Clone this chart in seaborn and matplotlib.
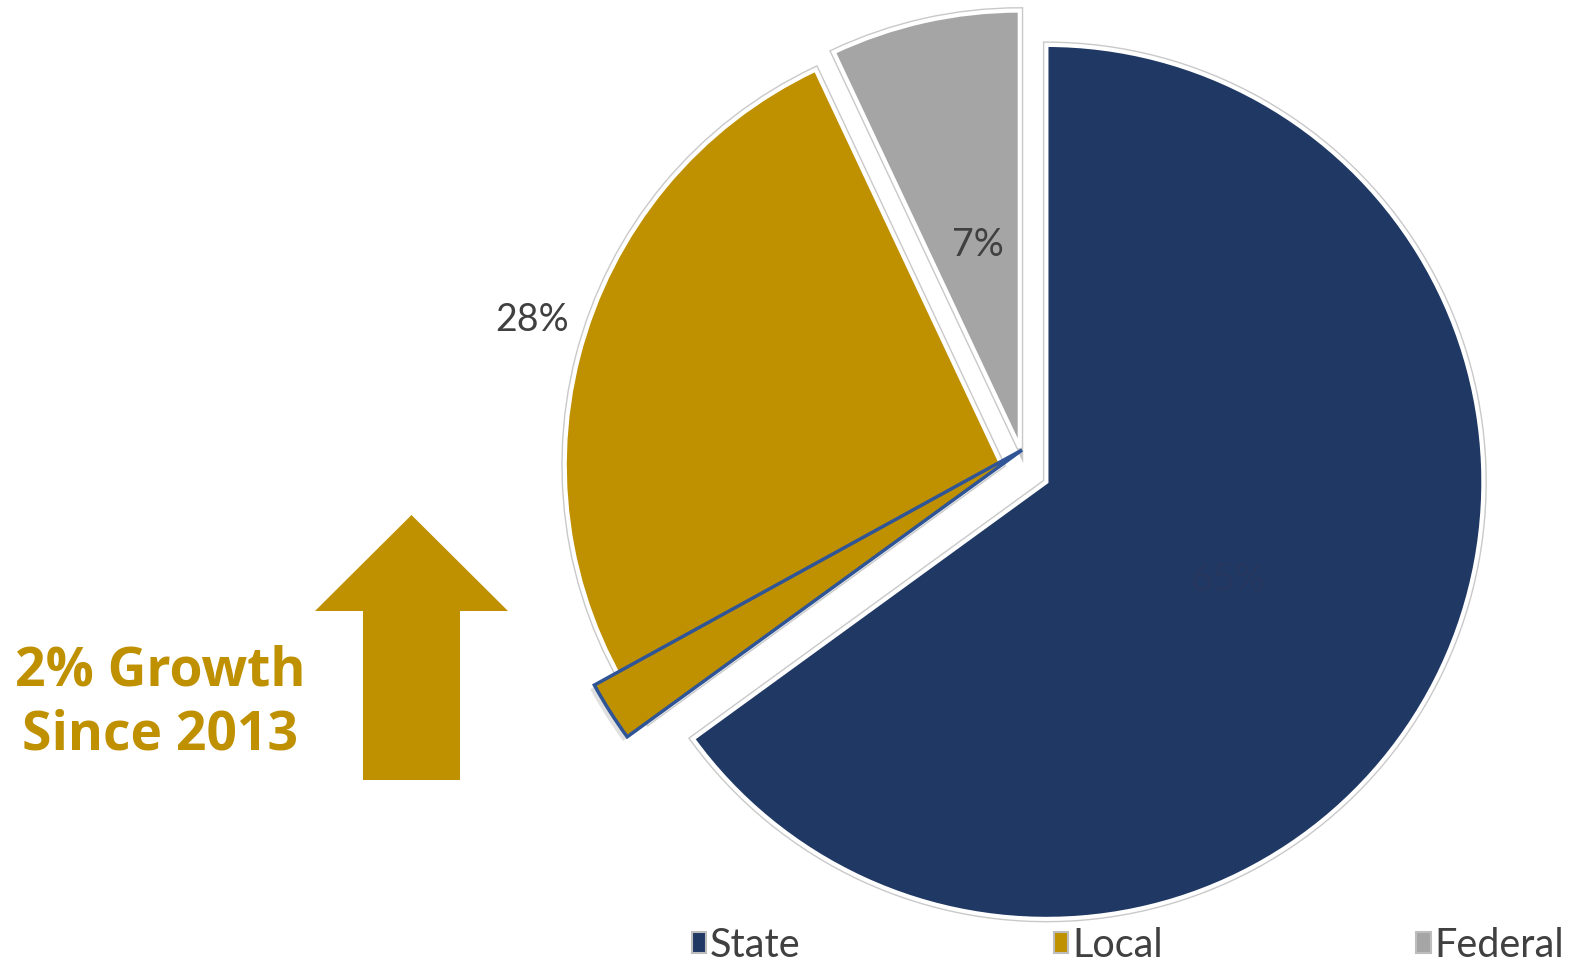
import matplotlib
matplotlib.use("Agg")
import matplotlib.pyplot as plt
import matplotlib.patches as mpatches
import matplotlib.patheffects as pe
import seaborn as sns

# ---- data ----
categories = ["State", "Local", "Federal"]
shares = [65, 28, 7]
growth = 2
label_texts = ["65%", "28%", "7%"]
note_lines = ["2% Growth", "Since 2013"]

colors = ["#203864", "#BF9000", "#A5A5A5"]
label_colors = ["#26375f", "#404040", "#404040"]

sns.set_theme(style="white")
plt.rcParams["font.family"] = ["Lato", "DejaVu Sans"]

W, H = 1570, 963
fig = plt.figure(figsize=(W / 100, H / 100), dpi=100)
ax = fig.add_axes([0, 0, 1, 1])

outline = [pe.Stroke(linewidth=5, foreground="#c9c9c9"), pe.Normal()]

wedges, _ = ax.pie(
    shares, colors=colors, startangle=90, counterclock=False,
    center=(1025, H - 471), radius=437, explode=[24, 24, 24],
    wedgeprops=dict(edgecolor="white", linewidth=3),
)
for w in wedges:
    w.set_path_effects(outline)

# growth wedge overlay (last 2% of Local, next to State)
split = [shares[0], growth, shares[1] - growth, shares[2]]
gw, _ = ax.pie(
    split, colors=["none", colors[1], "none", "none"], startangle=90,
    counterclock=False, center=(1022, H - 450), radius=488,
    wedgeprops=dict(linewidth=2.5),
)
for i, w in enumerate(gw):
    if i != 1:
        w.set_visible(False)
    else:
        w.set_edgecolor("#2F5597")
        w.set_path_effects([pe.SimplePatchShadow(offset=(-3, -3), alpha=0.18, shadow_rgbFace="#555555"),
                            pe.Normal()])

# percentage labels
label_pos = [(1228, H - 580), (532, H - 320), (978, H - 245)]
for (x, y), t, c in zip(label_pos, label_texts, label_colors):
    ax.text(x, y, t, ha="center", va="center", fontsize=27, color=c)

# arrow
ax.add_patch(mpatches.FancyArrow(411.5, H - 780, 0, 265, width=97, head_width=193,
                                 head_length=96, length_includes_head=True,
                                 color="#BF9000", linewidth=0))
ax.text(160, H - 671, note_lines[0], ha="center", va="center", fontsize=38.5,
        fontweight="bold", color="#BF9000", family=["Open Sans", "DejaVu Sans"])
ax.text(160, H - 736, note_lines[1], ha="center", va="center", fontsize=38.5,
        fontweight="bold", color="#BF9000", family=["Open Sans", "DejaVu Sans"])

ax.set_xlim(0, W)
ax.set_ylim(0, H)
ax.set_aspect("equal")
ax.axis("off")

handles = [mpatches.Patch(facecolor=c, edgecolor="#bdbdbd", linewidth=1.5) for c in colors]
leg = fig.legend(handles, categories, loc="center", bbox_to_anchor=(1128 / W, 1 - 945 / H),
                 ncol=3, frameon=False, fontsize=28.5, handlelength=0.36, handleheight=0.42,
                 handletextpad=0.1, columnspacing=6.4, borderpad=0, borderaxespad=0)
for t in leg.get_texts():
    t.set_color("#404040")

fig.savefig("out.png", dpi=100, facecolor="white")
